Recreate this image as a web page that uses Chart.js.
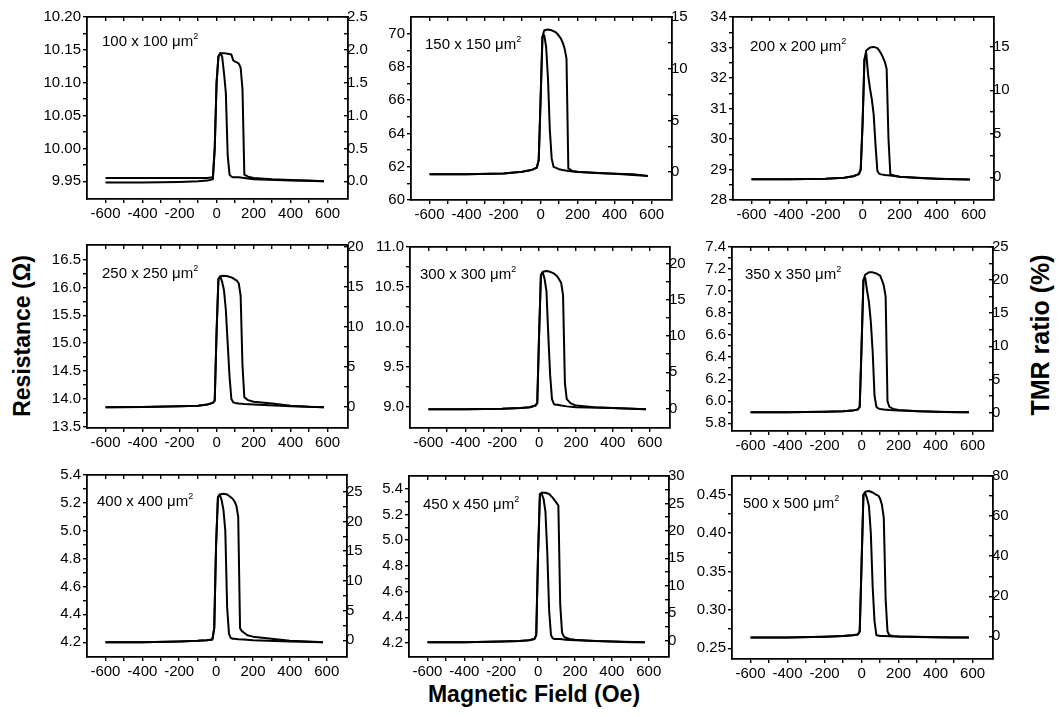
<!DOCTYPE html>
<html>
<head>
<meta charset="utf-8">
<script src="https://cdn.jsdelivr.net/npm/chart.js@4"></script>
<style>
  body { margin: 0; background: #fff; }
  #wrap { position: relative; width: 1062px; height: 717px; background: #fff; overflow: hidden; }
  .panel { position: absolute; }
  .lbl { position: absolute; font: 15px "Liberation Sans", Arial, sans-serif; color: #000; white-space: nowrap; transform: translateY(-50%); }
  .lbl sup { font-size: 9px; vertical-align: 7px; line-height: 0; }
  .title { position: absolute; font: bold 23px "Liberation Sans", Arial, sans-serif; color: #000; white-space: nowrap; }
</style>
</head>
<body>
<div id="wrap">
  <div class="title" id="yTitle">Resistance (Ω)</div>
  <div class="title" id="y2Title">TMR ratio (%)</div>
  <div class="title" id="xTitle">Magnetic Field (Oe)</div>
</div>
<script>
// field sweep points (Oe): wide branch sweeps up, narrow branch sweeps down
const fieldUp = [-600, -400, -200, -100, -50, -20, -10, 0, 10, 20, 40, 60, 80, 90, 100, 110, 120, 130, 140, 150, 170, 200, 300, 400, 500, 580];
const fieldDown = [580, 400, 200, 150, 120, 100, 90, 80, 70, 60, 50, 40, 30, 20, 10, 0, -10, -20, -50, -100, -200, -400, -600];

// resistance (ohm)
const r100Up = [9.948, 9.948, 9.949, 9.950, 9.951, 9.953, 10.00, 10.10, 10.14, 10.145, 10.145, 10.144, 10.143, 10.134, 10.132, 10.131, 10.129, 10.123, 10.09, 9.960, 9.957, 9.955, 9.953, 9.952, 9.951, 9.950];
const r100Down = [9.950, 9.951, 9.953, 9.955, 9.956, 9.956, 9.956, 9.957, 9.960, 9.99, 10.085, 10.115, 10.14, 10.145, 10.14, 10.10, 10.00, 9.956, 9.955, 9.955, 9.955, 9.955, 9.955];
const r150Up = [61.55, 61.55, 61.6, 61.7, 61.8, 61.95, 62.4, 66.0, 69.8, 70.2, 70.25, 70.2, 70.1, 70.0, 69.85, 69.7, 69.45, 69.1, 68.5, 61.9, 61.75, 61.7, 61.62, 61.58, 61.55, 61.45];
const r150Down = [61.45, 61.58, 61.68, 61.75, 61.8, 61.85, 61.9, 61.95, 62.0, 62.5, 64.2, 67.3, 69.2, 69.9, 69.8, 66.0, 62.4, 61.95, 61.8, 61.7, 61.6, 61.55, 61.55];
const r200Up = [28.68, 28.68, 28.70, 28.73, 28.78, 28.85, 29.0, 30.5, 32.6, 32.9, 33.0, 33.02, 32.98, 32.9, 32.8, 32.68, 32.53, 32.3, 30.0, 28.85, 28.8, 28.76, 28.72, 28.7, 28.68, 28.67];
const r200Down = [28.67, 28.70, 28.76, 28.8, 28.82, 28.84, 28.86, 28.95, 29.8, 30.8, 31.3, 31.66, 32.1, 32.8, 32.6, 30.5, 29.0, 28.85, 28.78, 28.73, 28.70, 28.68, 28.68];
const r250Up = [13.85, 13.855, 13.87, 13.88, 13.90, 13.93, 13.97, 15.2, 16.15, 16.2, 16.21, 16.2, 16.18, 16.16, 16.14, 16.12, 16.07, 15.85, 14.6, 14.03, 13.98, 13.95, 13.92, 13.88, 13.86, 13.85];
const r250Down = [13.85, 13.87, 13.9, 13.91, 13.92, 13.93, 13.94, 14.0, 14.4, 15.0, 15.6, 15.95, 16.1, 16.2, 16.15, 15.2, 13.97, 13.93, 13.9, 13.88, 13.87, 13.855, 13.85];
const r300Up = [8.975, 8.975, 8.98, 8.99, 9.0, 9.02, 9.05, 9.9, 10.65, 10.69, 10.7, 10.69, 10.67, 10.65, 10.63, 10.59, 10.55, 10.4, 9.3, 9.1, 9.05, 9.02, 9.0, 8.99, 8.98, 8.975];
const r300Down = [8.975, 8.99, 9.0, 9.01, 9.02, 9.03, 9.03, 9.04, 9.1, 9.4, 9.9, 10.45, 10.6, 10.68, 10.65, 9.9, 9.05, 9.02, 9.0, 8.99, 8.98, 8.975, 8.975];
const r350Up = [5.9, 5.9, 5.905, 5.91, 5.915, 5.925, 5.95, 6.5, 7.1, 7.15, 7.17, 7.17, 7.16, 7.15, 7.14, 7.1, 7.05, 6.95, 6.0, 5.95, 5.93, 5.92, 5.91, 5.905, 5.9, 5.9];
const r350Down = [5.9, 5.905, 5.915, 5.92, 5.925, 5.93, 5.935, 5.95, 6.05, 6.45, 6.72, 6.9, 7.0, 7.12, 7.1, 6.5, 5.95, 5.925, 5.915, 5.91, 5.905, 5.9, 5.9];
const r400Up = [4.2, 4.2, 4.205, 4.21, 4.215, 4.22, 4.3, 4.9, 5.24, 5.26, 5.265, 5.26, 5.24, 5.23, 5.21, 5.18, 5.1, 4.3, 4.28, 4.27, 4.25, 4.24, 4.225, 4.21, 4.205, 4.2];
const r400Down = [4.2, 4.205, 4.215, 4.22, 4.222, 4.225, 4.225, 4.23, 4.26, 4.45, 5.0, 5.15, 5.22, 5.26, 5.24, 4.9, 4.3, 4.22, 4.215, 4.21, 4.205, 4.2, 4.2];
const r450Up = [4.205, 4.205, 4.21, 4.215, 4.22, 4.23, 4.26, 4.9, 5.36, 5.37, 5.37, 5.36, 5.33, 5.31, 5.29, 5.27, 4.5, 4.28, 4.25, 4.24, 4.23, 4.225, 4.215, 4.21, 4.205, 4.205];
const r450Down = [4.205, 4.21, 4.22, 4.225, 4.23, 4.23, 4.23, 4.235, 4.26, 4.45, 4.9, 5.22, 5.32, 5.36, 5.36, 4.9, 4.26, 4.23, 4.22, 4.215, 4.21, 4.205, 4.205];
const r500Up = [0.264, 0.264, 0.265, 0.266, 0.267, 0.268, 0.272, 0.36, 0.45, 0.454, 0.455, 0.453, 0.45, 0.449, 0.445, 0.437, 0.42, 0.314, 0.272, 0.267, 0.266, 0.2655, 0.265, 0.2645, 0.264, 0.264];
const r500Down = [0.264, 0.2645, 0.265, 0.2655, 0.266, 0.266, 0.2665, 0.267, 0.285, 0.33, 0.40, 0.435, 0.445, 0.452, 0.45, 0.36, 0.272, 0.268, 0.267, 0.266, 0.265, 0.264, 0.264];

const sizes = ['100 x 100', '150 x 150', '200 x 200', '250 x 250', '300 x 300', '350 x 350', '400 x 400', '450 x 450', '500 x 500'];
const xTicks = [-600, -400, -200, 0, 200, 400, 600];
const leftTicks = [
  [9.95, 10.00, 10.05, 10.10, 10.15, 10.20],
  [60, 62, 64, 66, 68, 70],
  [28, 29, 30, 31, 32, 33, 34],
  [13.5, 14.0, 14.5, 15.0, 15.5, 16.0, 16.5],
  [9.0, 9.5, 10.0, 10.5, 11.0],
  [5.8, 6.0, 6.2, 6.4, 6.6, 6.8, 7.0, 7.2, 7.4],
  [4.2, 4.4, 4.6, 4.8, 5.0, 5.2, 5.4],
  [4.2, 4.4, 4.6, 4.8, 5.0, 5.2, 5.4],
  [0.25, 0.30, 0.35, 0.40, 0.45]
];
const rightTicks = [
  [0.0, 0.5, 1.0, 1.5, 2.0, 2.5],
  [0, 5, 10, 15],
  [0, 5, 10, 15],
  [0, 5, 10, 15, 20],
  [0, 5, 10, 15, 20],
  [0, 5, 10, 15, 20, 25],
  [0, 5, 10, 15, 20, 25],
  [0, 5, 10, 15, 20, 25, 30],
  [0, 20, 40, 60, 80]
];
const leftDecimals = [2, 0, 0, 1, 1, 1, 1, 1, 2];
const rightDecimals = [1, 0, 0, 0, 0, 0, 0, 0, 0];

const upSeries = [r100Up, r150Up, r200Up, r250Up, r300Up, r350Up, r400Up, r450Up, r500Up];
const downSeries = [r100Down, r150Down, r200Down, r250Down, r300Down, r350Down, r400Down, r450Down, r500Down];

// layout: plot boxes [left, top, right, bottom] and axis ranges
const boxes = [
  [87, 15, 348, 199], [411, 15, 672, 200], [733, 15, 994, 200],
  [87, 243, 348, 428], [410, 245, 670, 428], [732, 245, 993, 431],
  [87, 473, 347, 657], [409, 474, 669, 657], [732, 474, 993, 659]
];
const leftRange = [[9.923, 10.20], [60, 71.0], [28, 34], [13.48, 16.76], [8.74, 11.0], [5.73, 7.4], [4.094, 5.4], [4.09, 5.5], [0.236, 0.4745]];
const rightRange = [[-0.27, 2.5], [-2.7, 15], [-2.6, 18.4], [-2.6, 20.2], [-2.7, 22.3], [-2.8, 25], [-2.8, 27.8], [-3, 30], [-11.3, 80]];
const labelPos = [[102, 40], [425, 43], [750, 45], [102, 272], [420, 273], [745, 273], [97, 500], [423, 503], [743, 502]];

const AXW = 60, PADT = 10, AXH = 30;
const ink = '#000';
Chart.defaults.font.family = '"Liberation Sans", Arial, sans-serif';
Chart.defaults.font.size = 15;
Chart.defaults.color = ink;

function withMinors(ticks) {
  const out = [];
  ticks.forEach((v, i) => {
    out.push({ value: v, major: true });
    if (i < ticks.length - 1) out.push({ value: (v + ticks[i + 1]) / 2, major: false });
  });
  return out;
}

function axisStyle(tl) {
  return {
    grid: { drawOnChartArea: false, drawTicks: true, tickLength: tl, color: ink, lineWidth: 1.4 },
    border: { display: true, color: ink, width: 1.8 }
  };
}

const wrap = document.getElementById('wrap');

for (let i = 0; i < 9; i++) {
  const [L, T, R, B] = boxes[i];
  const div = document.createElement('div');
  div.className = 'panel';
  const w = (R - L) + 2 * AXW, h = (B - T) + PADT + AXH;
  div.style.left = (L - AXW) + 'px';
  div.style.top = (T - PADT) + 'px';
  div.style.width = w + 'px';
  div.style.height = h + 'px';
  const cv = document.createElement('canvas');
  cv.width = w; cv.height = h;
  div.appendChild(cv);
  wrap.appendChild(div);

  const lbl = document.createElement('div');
  lbl.className = 'lbl';
  lbl.style.left = labelPos[i][0] + 'px';
  lbl.style.top = labelPos[i][1] + 'px';
  lbl.innerHTML = sizes[i] + ' \u03bcm<sup>2</sup>';
  wrap.appendChild(lbl);

  const ld = leftDecimals[i], rd = rightDecimals[i];
  const lTicks = leftTicks[i], rTicks = rightTicks[i];

  new Chart(cv, {
    type: 'line',
    data: {
      datasets: [
        { data: fieldUp.map((f, k) => ({ x: f, y: upSeries[i][k] })), yAxisID: 'y' },
        { data: fieldDown.map((f, k) => ({ x: f, y: downSeries[i][k] })), yAxisID: 'y' }
      ]
    },
    options: {
      responsive: false,
      animation: false,
      devicePixelRatio: 1,
      layout: { padding: { top: PADT, left: 0, right: 0, bottom: 0 } },
      elements: {
        line: { borderColor: ink, borderWidth: 2, tension: 0, fill: false, borderJoinStyle: 'round' },
        point: { radius: 0 }
      },
      plugins: { legend: { display: false }, tooltip: { enabled: false } },
      scales: {
        x: {
          type: 'linear', position: 'bottom', min: -700, max: 710,
          afterBuildTicks: a => { a.ticks = withMinors(xTicks); },
          afterFit: s => { s.height = AXH; },
          ticks: { autoSkip: false, maxRotation: 0, padding: 2,
            callback: (v) => xTicks.includes(v) ? String(v) : '' },
          ...axisStyle(4)
        },
        x2: {
          type: 'linear', position: 'top', min: -700, max: 710,
          afterBuildTicks: a => { a.ticks = withMinors(xTicks); },
          afterFit: s => { s.height = 0; },
          ticks: { display: false },
          ...axisStyle(-4)
        },
        y: {
          type: 'linear', position: 'left', min: leftRange[i][0], max: leftRange[i][1],
          afterBuildTicks: a => { a.ticks = withMinors(lTicks); },
          afterFit: s => { s.width = AXW; },
          ticks: { autoSkip: false, padding: 2,
            callback: (v) => lTicks.some(t => Math.abs(t - v) < 1e-9) ? v.toFixed(ld) : '' },
          ...axisStyle(4)
        },
        y2: {
          type: 'linear', position: 'right', min: rightRange[i][0], max: rightRange[i][1],
          afterBuildTicks: a => { a.ticks = withMinors(rTicks); },
          afterFit: s => { s.width = AXW; },
          ticks: { autoSkip: false, padding: 3,
            callback: (v) => rTicks.some(t => Math.abs(t - v) < 1e-9) ? v.toFixed(rd) : '' },
          ...axisStyle(-4)
        }
      }
    }
  });
}

// shared axis titles
const yT = document.getElementById('yTitle');
yT.style.left = '22px'; yT.style.top = '336px';
yT.style.transform = 'translate(-50%, -50%) rotate(-90deg)';
const y2T = document.getElementById('y2Title');
y2T.style.left = '1040px'; y2T.style.top = '335px';
y2T.style.transform = 'translate(-50%, -50%) rotate(-90deg)';
y2T.style.fontSize = '25px';
const xT = document.getElementById('xTitle');
xT.style.left = '534px'; xT.style.top = '694px';
xT.style.transform = 'translate(-50%, -50%)';
</script>
</body>
</html>
